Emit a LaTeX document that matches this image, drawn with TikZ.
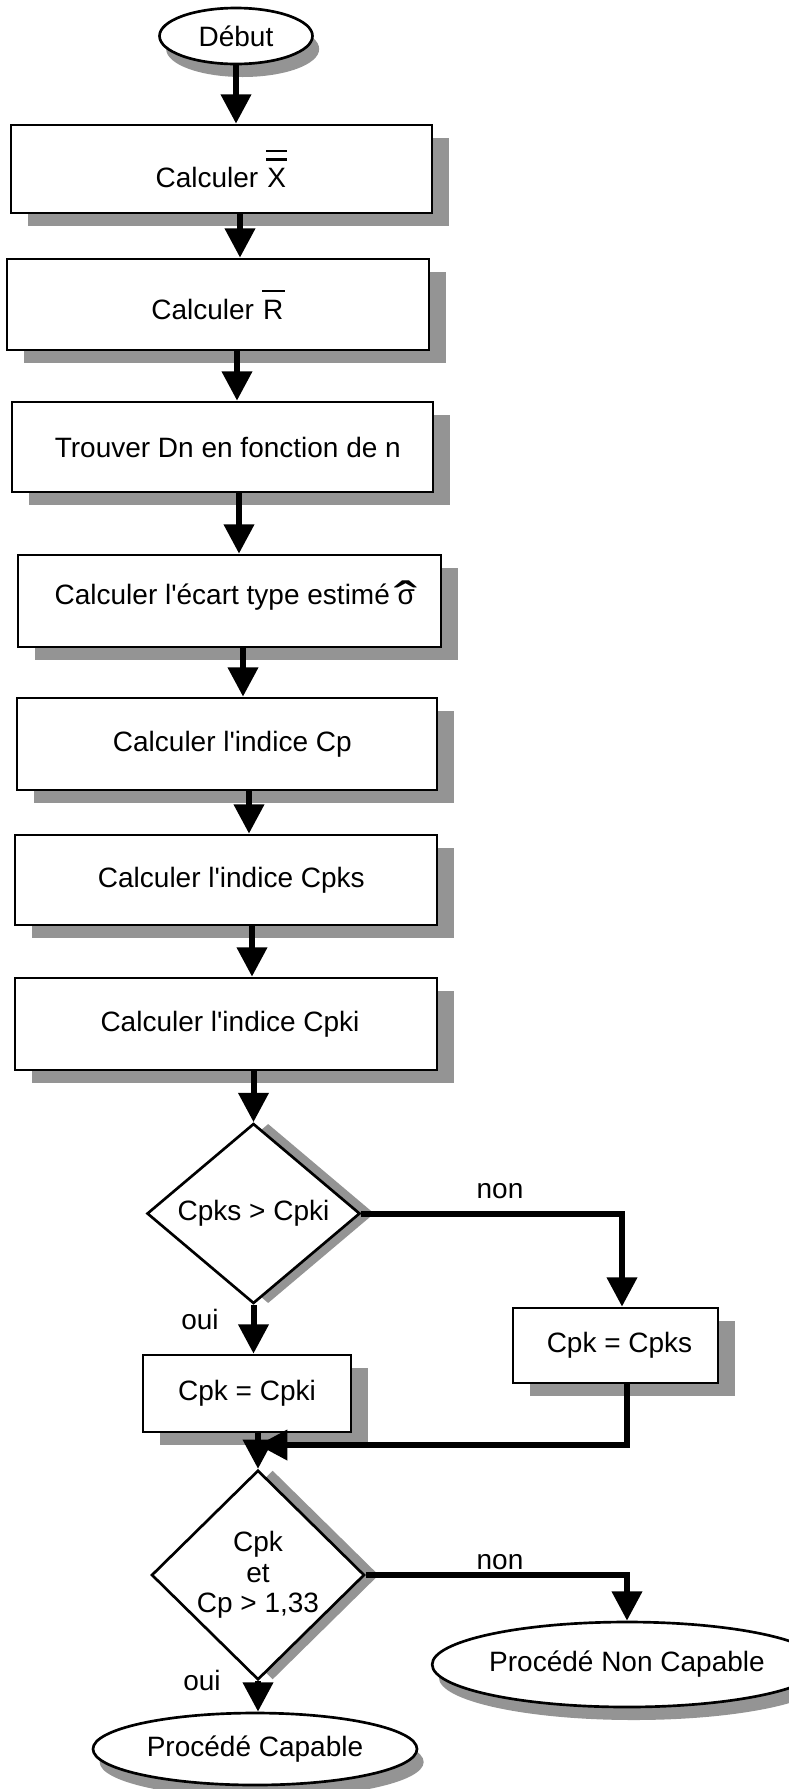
\documentclass[tikz,border=0pt]{standalone}
\usepackage{fontspec}
\setmainfont{Liberation Sans}[Ligatures=TeXOff]
\usetikzlibrary{arrows.meta,shapes.geometric,shadows}

% one drawing unit = one pixel of the layout grid
\newcommand\pxu{0.75pt}
% letters carrying one or two bars
\newcommand\dblbar[1]{\leavevmode\vbox{\hrule height 1.7pt\kern 4.5pt\hrule height 1.7pt\kern 6pt\hbox{\kern1pt#1\kern1pt}}}
\newcommand\sglbar[1]{\leavevmode\vbox{\hrule height 1.7pt\kern 5.8pt\hbox{\kern1pt#1\kern1pt}}}
% sigma with a wide hat
\newcommand\sigmahat{\leavevmode\ooalign{σ\cr\hidewidth\raisebox{-10pt}{\scalebox{2.5}[1.8]{ˆ}}\hidewidth\cr}}

\begin{document}
\begin{tikzpicture}[x=\pxu, y=-\pxu,
  every node/.style={font=\fontsize{21}{23}\selectfont},
  procbox/.style={draw, line width=2pt, fill=white, inner sep=0pt,
    drop shadow={shadow xshift=12.75pt, shadow yshift=-9.75pt, fill=black!42, opacity=1}},
  decision/.style={diamond, draw, line width=2pt, fill=white, inner sep=0pt, align=center,
    drop shadow={shadow xshift=11pt, shadow yshift=0pt, fill=black!42, opacity=1}},
  terminal/.style={ellipse, draw, line width=2pt, fill=white, inner sep=0pt,
    drop shadow={shadow xshift=5pt, shadow yshift=-9.75pt, fill=black!42, opacity=1}},
  arr/.style={line width=4.5pt, -{Triangle[length=22pt,width=22pt]}},
  lbl/.style={inner sep=0pt}
]
\fill[white] (0,0) rectangle (789,1789);
\useasboundingbox (0,0) rectangle (789,1789);

% main column
\node[terminal, minimum width=153*\pxu, minimum height=56*\pxu] (start) at (236,36) {Début};
\node[procbox, minimum width=421*\pxu, minimum height=88*\pxu] (b1) at (221.5,169) {Calculer \dblbar{X}};
\node[procbox, minimum width=422*\pxu, minimum height=91*\pxu] (b2) at (218,304.5) {Calculer \sglbar{R}};
\node[procbox, minimum width=421*\pxu, minimum height=90*\pxu] (b3) at (222.5,447) {\hspace*{8pt}Trouver Dn en fonction de n};
\node[procbox, minimum width=423*\pxu, minimum height=92*\pxu] (b4) at (229.5,601) {\hspace*{8pt}Calculer l'écart type estimé \sigmahat};
\node[procbox, minimum width=420*\pxu, minimum height=92*\pxu] (b5) at (227,744) {\hspace*{8pt}Calculer l'indice Cp};
\node[procbox, minimum width=422*\pxu, minimum height=90*\pxu] (b6) at (226,880) {\hspace*{8pt}Calculer l'indice Cpks};
\node[procbox, minimum width=422*\pxu, minimum height=92*\pxu] (b7) at (226,1024) {\hspace*{6pt}Calculer l'indice Cpki};

% first test
\node[decision, minimum width=213*\pxu, minimum height=180*\pxu] (d1) at (253.5,1213.5) {Cpks > Cpki};
\node[procbox, minimum width=205*\pxu, minimum height=75*\pxu] (cpks) at (615.5,1345.5) {\hspace*{6pt}Cpk = Cpks};
\node[procbox, minimum width=208*\pxu, minimum height=77*\pxu] (cpki) at (247,1393.5) {Cpk = Cpki};

% second test and outcomes
\node[decision, minimum width=213*\pxu, minimum height=175*\pxu] (d2) at (258,1575) {Cpk\\et\\Cp > 1,33};
\node[terminal, minimum width=324*\pxu, minimum height=72*\pxu] (cap) at (255,1749) {Procédé Capable};
\node[terminal, minimum width=320*\pxu, minimum height=85*\pxu] (ncap) at (627,1664.5) {Procédé Non Capable};

% branch labels
\node[lbl] (non1) at (500,1191) {non};
\node[lbl] (oui1) at (200,1319) {oui};
\node[lbl] (non2) at (500,1562) {non};
\node[lbl] (oui2) at (202,1680) {oui};

% connector columns
\coordinate (x12) at (240,0);
\coordinate (x23) at (237,0);
\coordinate (x34) at (239,0);
\coordinate (x45) at (243,0);
\coordinate (x56) at (249,0);
\coordinate (x67) at (252,0);
\coordinate (xin) at (622,0);
\coordinate (xout) at (627,0);
\coordinate (merge) at (258,1445);

\draw[arr] (start.south) -- (start.south |- b1.north);
\draw[arr] (b1.south -| x12) -- (b2.north -| x12);
\draw[arr] (b2.south -| x23) -- (b3.north -| x23);
\draw[arr] (b3.south -| x34) -- (b4.north -| x34);
\draw[arr] (b4.south -| x45) -- (b5.north -| x45);
\draw[arr] (b5.south -| x56) -- (b6.north -| x56);
\draw[arr] (b6.south -| x67) -- (b7.north -| x67);
\draw[arr] (b7.south -| d1.north) -- (d1.north);

\draw[arr] (d1.south) -- (d1.south |- cpki.north);
\draw[arr] (d1.east) -| (cpks.north -| xin);
\draw[arr] (cpks.south -| xout) |- (merge);
\draw[arr] (cpki.south -| d2.north) -- (d2.north);

\draw[arr] (d2.south) -- (d2.south |- cap.north);
\draw[arr] (d2.east) -| (ncap.north);
\end{tikzpicture}
\end{document}
